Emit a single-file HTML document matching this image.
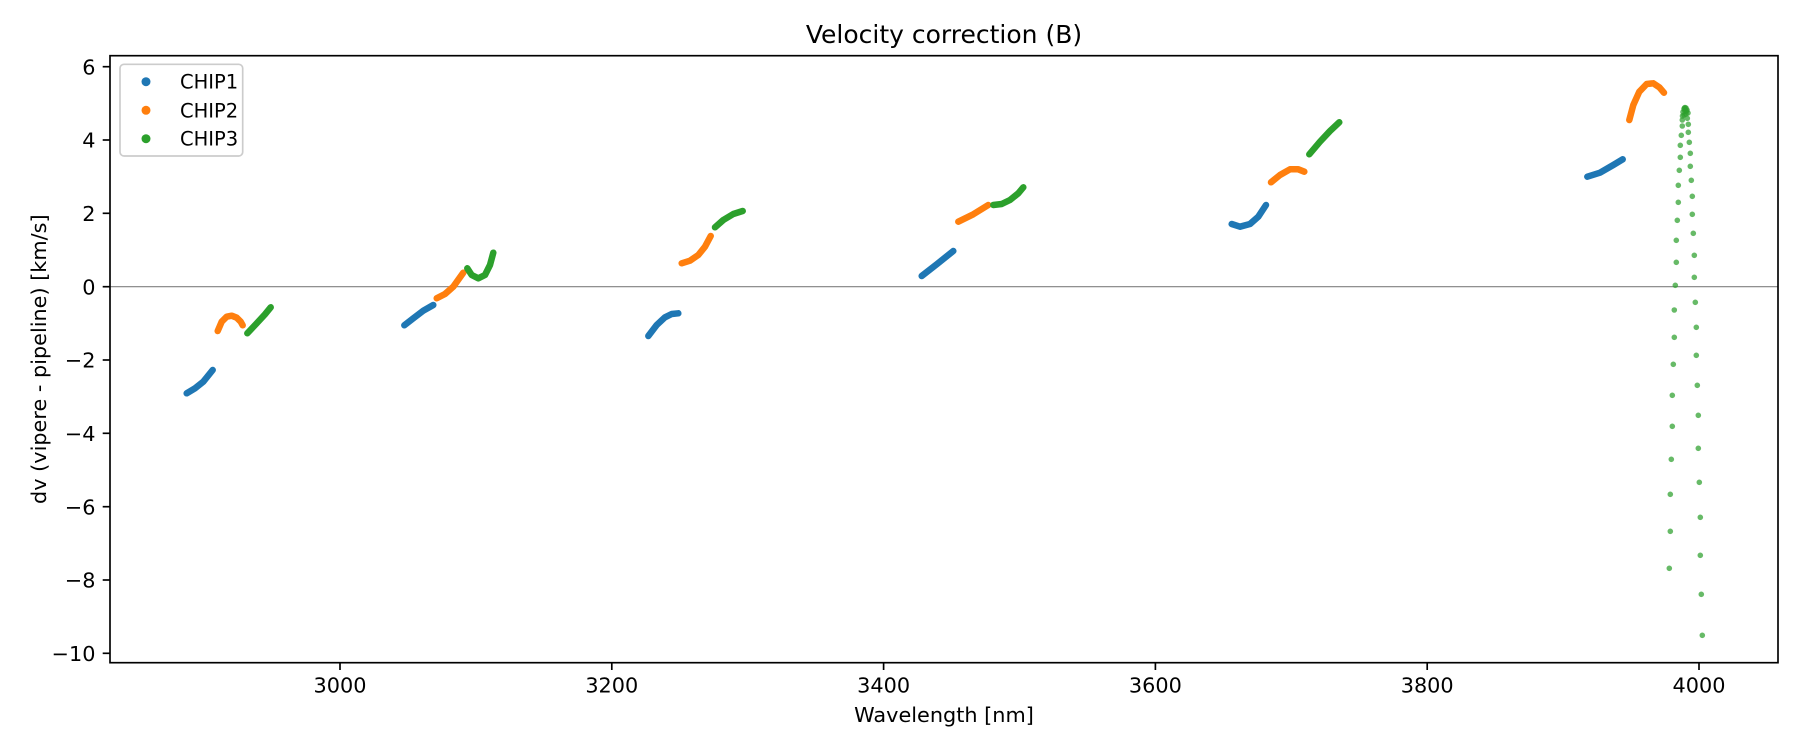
<!DOCTYPE html>
<html><head><meta charset="utf-8"><style>
html,body{margin:0;padding:0;background:#fff;}
svg{display:block;}
text{font-family:"DejaVu Sans","Liberation Sans",sans-serif;fill:#000;}
</style></head><body>
<svg width="1800" height="750" viewBox="0 0 1800 750" xmlns="http://www.w3.org/2000/svg">
<rect x="0" y="0" width="1800" height="750" fill="#fff"/>
<text x="944" y="43" font-size="25" text-anchor="middle">Velocity correction (B)</text>
<line x1="110" y1="286.7" x2="1778" y2="286.7" stroke="#808080" stroke-width="1.2"/>

<g fill="none" stroke-linecap="round" stroke-linejoin="round" stroke-width="6.5">
<polyline stroke="#1f77b4" points="186.7,393.3 195,388.3 203.3,381.7 212.7,370"/>
<polyline stroke="#ff7f0e" points="217.7,331 221.7,321.7 226.7,316.7 231.7,315.7 236.7,317.7 240.7,321.7 242.7,325.3"/>
<polyline stroke="#2ca02c" points="247.3,333.3 256.7,323.3 265,314.3 270.7,307.3"/>
<polyline stroke="#1f77b4" points="404.3,325.3 413.3,318.3 423.3,310.7 433.3,305"/>
<polyline stroke="#ff7f0e" points="436.7,298.3 445,294 453.3,286.7 463.3,272.7"/>
<polyline stroke="#2ca02c" points="467.3,268.3 471.7,275 478.3,278.3 485,275 490,265 493.3,252.7"/>
<polyline stroke="#1f77b4" points="648.3,336 656.7,325 665,317.3 671.7,314 678.3,313.3"/>
<polyline stroke="#ff7f0e" points="681.7,263.3 690,260.7 698.3,255 705,246.7 710.7,236"/>
<polyline stroke="#2ca02c" points="715,227.3 723.3,220 733.3,214 742.7,211"/>
<polyline stroke="#1f77b4" points="921.7,276 936.7,264.3 953.3,251"/>
<polyline stroke="#ff7f0e" points="958.3,221.7 973.3,214.3 988.3,205"/>
<polyline stroke="#2ca02c" points="993.3,205 1001.7,204 1010,200 1018.3,193.3 1023.3,187.3"/>
<polyline stroke="#1f77b4" points="1231.7,224 1240,226.7 1250,224 1258.3,216.7 1266,205"/>
<polyline stroke="#ff7f0e" points="1271,182.3 1280,175 1290,169.3 1298.3,169.3 1304.3,171.7"/>
<polyline stroke="#2ca02c" points="1309.3,154.3 1320,141.7 1330,131 1339.3,122.3"/>
<polyline stroke="#1f77b4" points="1587.3,176.7 1600,172.7 1613.3,165 1622.7,159.3"/>
<polyline stroke="#ff7f0e" points="1629.3,120 1633.3,105 1639.3,91.7 1646.7,84 1653.3,83.3 1659.3,87.3 1664,92.7"/>
</g>

<g fill="#2ca02c" fill-opacity="0.72">
<circle cx="1682.3" cy="120" r="2.8"/><circle cx="1682.3" cy="126" r="2.8"/><circle cx="1681.3" cy="135.3" r="2.8"/><circle cx="1680.3" cy="145.3" r="2.8"/><circle cx="1680.3" cy="157.3" r="2.8"/><circle cx="1679.3" cy="170.3" r="2.8"/><circle cx="1678.3" cy="185.3" r="2.8"/><circle cx="1678.3" cy="202.3" r="2.8"/><circle cx="1677.3" cy="220.3" r="2.8"/><circle cx="1676.3" cy="240.3" r="2.8"/><circle cx="1676.3" cy="262.3" r="2.8"/><circle cx="1675.3" cy="285.3" r="2.8"/><circle cx="1674.3" cy="310" r="2.8"/><circle cx="1674.3" cy="337.3" r="2.8"/><circle cx="1673.3" cy="364.3" r="2.8"/><circle cx="1672.3" cy="395.3" r="2.8"/><circle cx="1672.3" cy="426.3" r="2.8"/><circle cx="1671.3" cy="459.3" r="2.8"/><circle cx="1670.3" cy="494.3" r="2.8"/><circle cx="1670.3" cy="531.3" r="2.8"/><circle cx="1669.3" cy="568.3" r="2.8"/>
<circle cx="1687.3" cy="118.3" r="2.8"/><circle cx="1688.3" cy="124.3" r="2.8"/><circle cx="1688.3" cy="132.3" r="2.8"/><circle cx="1689.3" cy="142.3" r="2.8"/><circle cx="1690.3" cy="153.3" r="2.8"/><circle cx="1690.3" cy="166.3" r="2.8"/><circle cx="1691.3" cy="180.3" r="2.8"/><circle cx="1692.3" cy="196.3" r="2.8"/><circle cx="1692.3" cy="214.3" r="2.8"/><circle cx="1693.3" cy="233.3" r="2.8"/><circle cx="1694.3" cy="255.3" r="2.8"/><circle cx="1694.3" cy="277.3" r="2.8"/><circle cx="1695.3" cy="302.3" r="2.8"/><circle cx="1696.3" cy="327.3" r="2.8"/><circle cx="1696.3" cy="355.3" r="2.8"/><circle cx="1697.3" cy="385.3" r="2.8"/><circle cx="1698.3" cy="415.3" r="2.8"/><circle cx="1698.3" cy="448.3" r="2.8"/><circle cx="1699.3" cy="482.3" r="2.8"/><circle cx="1700.3" cy="517.3" r="2.8"/><circle cx="1700.3" cy="555.3" r="2.8"/><circle cx="1701.3" cy="594.3" r="2.8"/><circle cx="1702.3" cy="635.3" r="2.8"/>
<circle cx="1683" cy="112" r="2.8"/><circle cx="1684" cy="109" r="2.8"/><circle cx="1685" cy="107.5" r="2.8"/><circle cx="1686" cy="108" r="2.8"/><circle cx="1687" cy="110" r="2.8"/><circle cx="1688" cy="113" r="2.8"/><circle cx="1684" cy="115" r="2.8"/><circle cx="1686" cy="114" r="2.8"/><circle cx="1682.5" cy="116" r="2.8"/><circle cx="1685" cy="111" r="2.8"/><circle cx="1684.5" cy="108" r="2.8"/><circle cx="1686.5" cy="111" r="2.8"/>
</g>

<rect x="110" y="55.7" width="1668" height="607" fill="none" stroke="#000" stroke-width="1.67"/>

<g stroke="#000" stroke-width="1.67">
<line x1="102.7" y1="66.7" x2="110" y2="66.7"/>
<line x1="102.7" y1="140" x2="110" y2="140"/>
<line x1="102.7" y1="213.3" x2="110" y2="213.3"/>
<line x1="102.7" y1="286.7" x2="110" y2="286.7"/>
<line x1="102.7" y1="360" x2="110" y2="360"/>
<line x1="102.7" y1="433.3" x2="110" y2="433.3"/>
<line x1="102.7" y1="506.7" x2="110" y2="506.7"/>
<line x1="102.7" y1="580" x2="110" y2="580"/>
<line x1="102.7" y1="653.3" x2="110" y2="653.3"/>
<line x1="340" y1="662.7" x2="340" y2="670"/>
<line x1="611.8" y1="662.7" x2="611.8" y2="670"/>
<line x1="883.6" y1="662.7" x2="883.6" y2="670"/>
<line x1="1155.4" y1="662.7" x2="1155.4" y2="670"/>
<line x1="1427.2" y1="662.7" x2="1427.2" y2="670"/>
<line x1="1699" y1="662.7" x2="1699" y2="670"/>
</g>
<g font-size="20.8" text-anchor="end">
<text x="95.5" y="74.3">6</text>
<text x="95.5" y="147.6">4</text>
<text x="95.5" y="220.9">2</text>
<text x="95.5" y="294.3">0</text>
<text x="95.5" y="367.6">−2</text>
<text x="95.5" y="440.9">−4</text>
<text x="95.5" y="514.3">−6</text>
<text x="95.5" y="587.6">−8</text>
<text x="95.5" y="660.9">−10</text>
</g>
<g font-size="20.8" text-anchor="middle">
<text x="340" y="692.5">3000</text>
<text x="611.8" y="692.5">3200</text>
<text x="883.6" y="692.5">3400</text>
<text x="1155.4" y="692.5">3600</text>
<text x="1427.2" y="692.5">3800</text>
<text x="1699" y="692.5">4000</text>
</g>
<text x="944" y="722" font-size="20.8" text-anchor="middle">Wavelength [nm]</text>
<text transform="translate(46,359.2) rotate(-90)" font-size="20.8" text-anchor="middle">dv (vipere - pipeline) [km/s]</text>

<rect x="120" y="64.3" width="122.7" height="91.7" rx="4" ry="4" fill="#fff" fill-opacity="0.8" stroke="#cccccc" stroke-width="1.67"/>
<circle cx="146" cy="81.7" r="4.5" fill="#1f77b4"/>
<circle cx="146" cy="110.3" r="4.5" fill="#ff7f0e"/>
<circle cx="146" cy="138.7" r="4.5" fill="#2ca02c"/>
<g font-size="19.5">
<text x="180" y="88.7">CHIP1</text>
<text x="180" y="117.3">CHIP2</text>
<text x="180" y="145.7">CHIP3</text>
</g>
</svg>
</body></html>
